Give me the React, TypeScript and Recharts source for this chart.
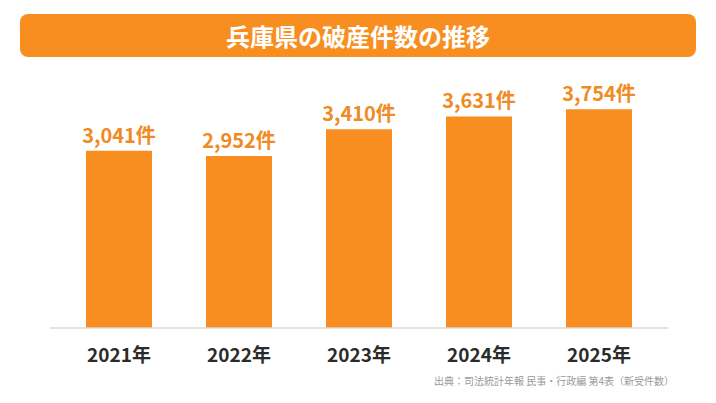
import { BarChart, Bar, XAxis, YAxis, LabelList } from "recharts";

const years = ["2021年", "2022年", "2023年", "2024年", "2025年"];
const counts = [3041, 2952, 3410, 3631, 3754];

const TITLE = "兵庫県の破産件数の推移";
const SOURCE = "出典：司法統計年報 民事・行政編 第4表（新受件数）";
const ORANGE = "#F88E1F";
const FONT = "'Noto Sans CJK JP', 'Noto Sans', sans-serif";

const data = years.map((year, i) => ({ year, count: counts[i] }));

function YearTick({ x, y, payload }: any) {
  return (
    <text
      x={x}
      y={y + 26}
      textAnchor="middle"
      fill="#2b2b2b"
      fontSize={19}
      fontWeight={700}
      fontFamily={FONT}
    >
      {payload.value}
    </text>
  );
}

export default function App() {
  return (
    <div style={{ position: "relative", width: 716, height: 403, background: "#fff", margin: -8 }}>
      {/* title banner */}
      <div
        style={{
          position: "absolute",
          left: 20,
          top: 14,
          width: 676,
          height: 43,
          borderRadius: 8,
          background: ORANGE,
          color: "#fff",
          fontFamily: FONT,
          fontWeight: 700,
          fontSize: 24,
          lineHeight: "43px",
          textAlign: "center",
        }}
      >
        {TITLE}
      </div>

      <BarChart
        width={716}
        height={403}
        data={data}
        margin={{ top: 95, right: 48, bottom: 0, left: 50 }}
      >
        <XAxis
          dataKey="year"
          tick={<YearTick />}
          tickLine={false}
          axisLine={{ stroke: "#d9d9d9", strokeWidth: 1.5 }}
          padding={{ left: 9, right: 9 }}
          height={75}
          interval={0}
        />
        <YAxis hide domain={[0, 4000]} />
        <Bar dataKey="count" fill={ORANGE} barSize={66} isAnimationActive={false}>
          <LabelList
            dataKey="count"
            position="top"
            offset={8}
            formatter={(v: any) => `${Number(v).toLocaleString("en-US")}件`}
            fill="#F08A22"
            fontSize={20}
            fontWeight={700}
            fontFamily={FONT}
          />
        </Bar>
      </BarChart>

      <div
        style={{
          position: "absolute",
          right: 42,
          top: 373,
          fontFamily: FONT,
          fontSize: 10,
          color: "#9a9a9a",
          whiteSpace: "nowrap",
        }}
      >
        {SOURCE}
      </div>
    </div>
  );
}
